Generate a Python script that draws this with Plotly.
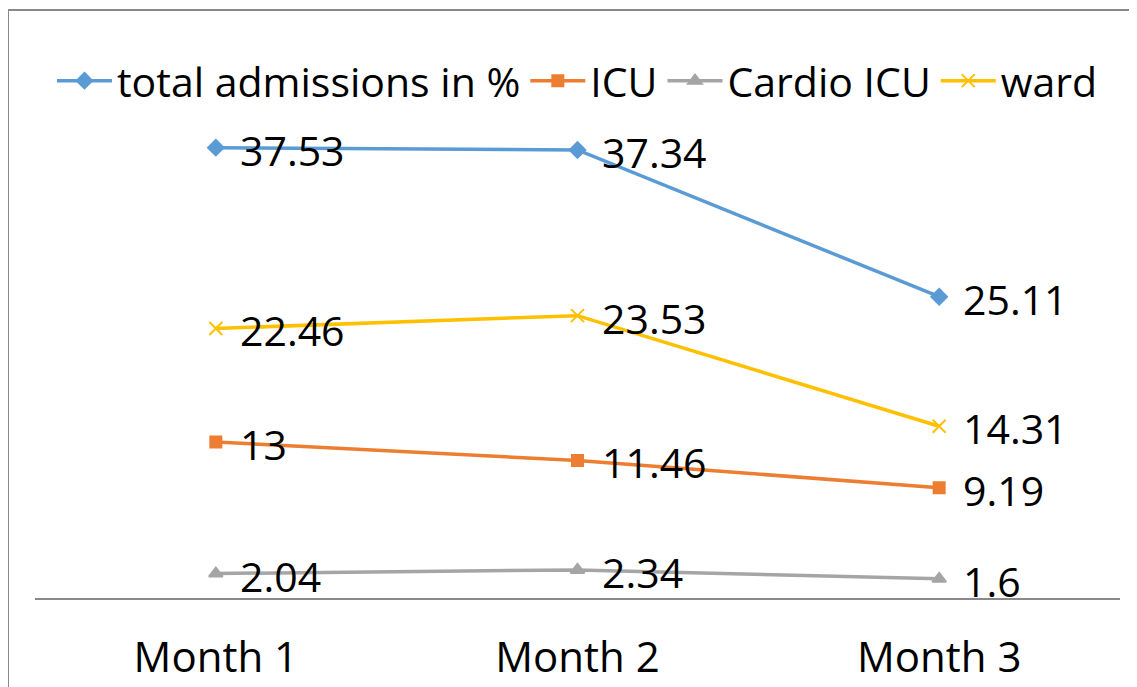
import plotly.graph_objects as go

months = ["Month 1", "Month 2", "Month 3"]
total_admissions = [37.53, 37.34, 25.11]
icu = [13, 11.46, 9.19]
cardio_icu = [2.04, 2.34, 1.6]
ward = [22.46, 23.53, 14.31]

FONT = "Open Sans"
W, H = 1137, 687
# page body adds 8px offset, margins are measured in figure coords
L, R, T, B = 27, 25, 110, 97

series = [
    ("total admissions in %", total_admissions, "#5B9BD5", "diamond", 12),
    ("ICU", icu, "#ED7D31", "square", 11),
    ("Cardio ICU", cardio_icu, "#A5A5A5", "triangle-up", 12),
    ("ward", ward, "#FFC000", "x-thin-open", 13),
]

fig = go.Figure()
for name, vals, color, sym, size in series:
    fig.add_trace(go.Scatter(
        x=months, y=vals, name=name,
        mode="lines+markers",
        line=dict(color=color, width=3.5),
        marker=dict(symbol=sym, size=size, color=color,
                    line=dict(color=color, width=2)),
        cliponaxis=False,
    ))
    for m, v in zip(months, vals):
        fig.add_annotation(x=m, y=v, text=f"{v:g}", showarrow=False,
                           xanchor="left", yanchor="middle", xshift=22, yshift=-2,
                           font=dict(family=FONT, size=41, color="#000000"))

pw = W - L - R
ph = H - T - B
# chart border (left and top edges visible)
bx = (0 - L) / pw
by = (H - B - 2) / ph
fig.add_shape(type="line", xref="paper", yref="paper",
              x0=bx, x1=bx, y0=-0.3, y1=by,
              line=dict(color="#898989", width=2))
fig.add_shape(type="line", xref="paper", yref="paper",
              x0=bx, x1=1.1, y0=by, y1=by,
              line=dict(color="#898989", width=2))

fig.update_layout(
    width=W, height=H,
    margin=dict(l=L, r=R, t=T, b=B),
    paper_bgcolor="white", plot_bgcolor="white",
    font=dict(family=FONT, size=41, color="#000000"),
    legend=dict(orientation="h", x=0.5, xanchor="center", y=(H - B - 73) / ph,
                yanchor="middle", font=dict(family=FONT, size=41),
                itemwidth=55, tracegroupgap=0),
    xaxis=dict(range=[-0.5, 2.5], showline=True, linecolor="#898989", linewidth=2,
               showgrid=False, zeroline=False, ticks="",
               tickfont=dict(family=FONT, size=42), ticklabelstandoff=22),
    yaxis=dict(range=[0, 40], visible=False, showgrid=False),
)

fig.write_html("out.html")
